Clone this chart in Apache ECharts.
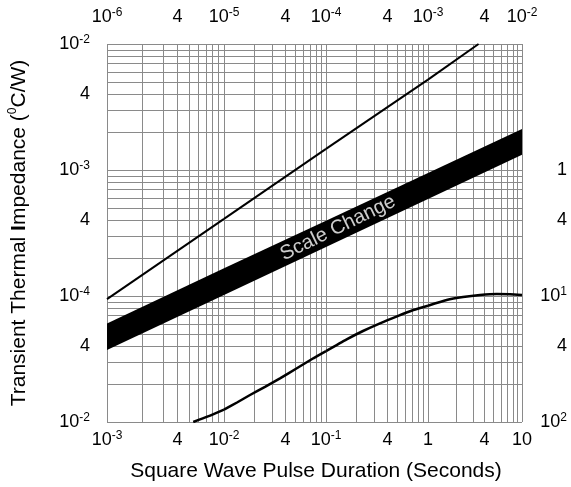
<!DOCTYPE html>
<html>
<head>
<meta charset="utf-8">
<script src="https://cdn.jsdelivr.net/npm/echarts@6/dist/echarts.min.js"></script>
<style>
  html, body { margin: 0; padding: 0; background: #fff; }
  #chart { width: 571px; height: 487px; }
</style>
</head>
<body>
<div id="chart"></div>
<script>
// decades of pulse duration (s) - the scanned grid is uneven, so each decade gets its own grid
const decades = [1e-3, 1e-2, 1e-1, 1, 10];
const decadeEdges = [107, 224, 326, 428, 522];

// tick labels
const xTickValues = [1e-3, 4e-3, 1e-2, 4e-2, 1e-1, 4e-1, 1, 4, 10];
const xBottomLabels = ['10^-3', '4', '10^-2', '4', '10^-1', '4', '1', '4', '10'];
const xTopLabels = ['10^-6', '4', '10^-5', '4', '10^-4', '4', '10^-3', '4', '10^-2'];
const yTickValues = [1e-2, 4e-3, 1e-3, 4e-4, 1e-4, 4e-5, 1e-5];
const yLeftLabels = ['10^-2', '4', '10^-3', '4', '10^-4', '4', '10^-2'];
const yRightLabels = ['', '', '1', '4', '10^1', '4', '10^2'];

// curves [seconds, degC/W]
const upperLine = [[1e-3, 9.45e-5], [1e-2, 4.09e-4], [1e-1, 1.47e-3], [1, 5.22e-3], [3.45, 1e-2]];
const bandTop = [[1e-3, 6.05e-5], [1e-2, 1.66e-4], [1e-1, 3.96e-4], [1, 9.46e-4], [10, 2.12e-3]];
const bandBottom = [[1e-3, 3.72e-5], [1e-2, 1.02e-4], [1e-1, 2.45e-4], [1, 5.88e-4], [10, 1.32e-3]];
const lowerCurve = [
  [5.46e-3, 1e-5], [7.29e-3, 1.107e-5], [1e-2, 1.254e-5],
  [1.341e-2, 1.428e-5], [1.799e-2, 1.638e-5], [2.524e-2, 1.903e-5], [3.54e-2, 2.222e-5],
  [5.08e-2, 2.644e-5], [7.51e-2, 3.203e-5], [1e-1, 3.653e-5],
  [0.1595, 4.53e-5], [0.2305, 5.275e-5], [0.3383, 6.07e-5], [0.4968, 6.9e-5], [0.7178, 7.74e-5], [1, 8.375e-5],
  [1.58, 9.3e-5], [2.357, 9.82e-5], [3.574, 1.019e-4], [5.38, 1.038e-4], [7.45, 1.032e-4], [10, 1.019e-4]
];
const bandLabel = [[0.131, 3.47e-4]];

const FONT = '"Liberation Sans", Arial, sans-serif';
const GRID_COLOR = '#8a8a8a';

const rich = {
  b: { fontSize: 18, fontFamily: FONT, color: '#000', lineHeight: 21 },
  s: { fontSize: 12, fontFamily: FONT, color: '#000', lineHeight: 12, verticalAlign: 'top' }
};

function richLabel(s) {
  if (!s) return '';
  if (s.indexOf('^') < 0) return '{b|' + s + '}';
  const parts = s.split('^');
  return '{b|' + parts[0] + '}{s|' + parts[1] + '}';
}

function labelFor(values, labels) {
  return function (v) {
    for (let i = 0; i < values.length; i++) {
      if (Math.abs(Math.log10(values[i]) - Math.log10(v)) < 1e-6) return richLabel(labels[i]);
    }
    return '';
  };
}

function inDecade(points, k) {
  return points.filter(p => p[0] >= decades[k] * (1 - 1e-9) && p[0] <= decades[k + 1] * (1 + 1e-9));
}

// grid line positions: 1..9 x each decade
function gridValues(lo, hi) {
  const vals = [];
  for (let d = Math.round(Math.log10(lo)); d < Math.round(Math.log10(hi)); d++) {
    for (let m = 1; m <= 9; m++) vals.push(m * Math.pow(10, d));
  }
  vals.push(hi);
  return vals;
}

const grids = [], xAxes = [], yAxes = [], series = [];

for (let k = 0; k < 4; k++) {
  const lo = decades[k], hi = decades[k + 1];
  const labVals = xTickValues.filter(v => v >= lo * 0.999 && (v < hi * 0.999 || k === 3));

  grids.push({ left: decadeEdges[k], width: decadeEdges[k + 1] - decadeEdges[k], top: 44, height: 378 });

  xAxes.push({
    gridIndex: k, type: 'log', min: lo, max: hi, position: 'bottom',
    axisLine: { show: false },
    axisTick: { show: false, customValues: gridValues(lo, hi) },
    splitLine: { show: true, lineStyle: { color: GRID_COLOR, width: 1 } },
    axisLabel: { customValues: labVals, margin: 8, formatter: labelFor(xTickValues, xBottomLabels), rich: rich }
  });
  xAxes.push({
    gridIndex: k, type: 'log', min: lo, max: hi, position: 'top',
    axisLine: { show: false },
    axisTick: { show: false },
    splitLine: { show: false },
    axisLabel: { customValues: labVals, margin: 16, formatter: labelFor(xTickValues, xTopLabels), rich: rich }
  });

  const yAxis = {
    gridIndex: k, type: 'log', min: 1e-5, max: 1e-2,
    position: k === 3 ? 'right' : 'left',
    axisLine: { show: false },
    axisTick: { show: false, customValues: gridValues(1e-5, 1e-2) },
    splitLine: { show: true, lineStyle: { color: GRID_COLOR, width: 1 } },
    axisLabel: { show: false }
  };
  if (k === 0) {
    yAxis.axisLabel = { show: true, customValues: yTickValues, margin: 17, formatter: labelFor(yTickValues, yLeftLabels), rich: rich };
    yAxis.name = 'Transient Thermal {bb|I}mpedance ({sup|0}C/W)';
    yAxis.nameLocation = 'middle';
    yAxis.nameGap = 76;
    yAxis.nameTextStyle = {
      fontSize: 21, fontFamily: FONT, color: '#000', lineHeight: 24,
      rich: {
        bb: { fontSize: 21, fontFamily: FONT, fontWeight: 'bold', color: '#000', lineHeight: 24 },
        sup: { fontSize: 12, fontFamily: FONT, color: '#000', lineHeight: 12, verticalAlign: 'top' }
      }
    };
  }
  if (k === 3) {
    yAxis.axisLabel = { show: true, customValues: yTickValues, margin: 45, align: 'right', formatter: labelFor(yTickValues, yRightLabels), rich: rich };
  }
  yAxes.push(yAxis);

  // black band
  const top = inDecade(bandTop, k), bot = inDecade(bandBottom, k);
  series.push({
    type: 'custom', xAxisIndex: 2 * k, yAxisIndex: k, silent: true,
    data: top.map((p, i) => [p[0], p[1], bot[i][1]]),
    encode: { x: 0, y: [1, 2] },
    renderItem: function (params, api) {
      if (params.dataIndex !== 0) return null;
      const pts = top.map(p => api.coord(p)).concat(bot.slice().reverse().map(p => api.coord(p)));
      return { type: 'polygon', shape: { points: pts }, style: { fill: '#000' } };
    }
  });

  const up = inDecade(upperLine, k);
  if (up.length > 1) {
    series.push({
      type: 'line', xAxisIndex: 2 * k, yAxisIndex: k, data: up, symbol: 'none', silent: true,
      lineStyle: { color: '#000', width: 2 }
    });
  }

  const lowSeg = inDecade(lowerCurve, k);
  if (lowSeg.length > 1) {
    series.push({
      type: 'line', xAxisIndex: 2 * k, yAxisIndex: k, data: lowSeg, symbol: 'none', silent: true,
      smooth: 0.2, lineStyle: { color: '#000', width: 2.5 }
    });
  }
}

// "Scale Change" text on the band
series.push({
  type: 'scatter', xAxisIndex: 4, yAxisIndex: 2, data: bandLabel, symbolSize: 1, silent: true,
  itemStyle: { color: 'rgba(0,0,0,0)' },
  label: {
    show: true, position: 'inside', formatter: 'Scale Change', rotate: 26,
    color: '#fff', fontSize: 20, fontFamily: FONT
  }
});

const chart = echarts.init(document.getElementById('chart'));
chart.setOption({
  animation: false,
  backgroundColor: '#fff',
  grid: grids,
  xAxis: xAxes,
  yAxis: yAxes,
  series: series,
  graphic: [{
    type: 'text', x: 316, y: 471,
    style: {
      text: 'Square Wave Pulse Duration (Seconds)',
      font: '21px ' + FONT, fill: '#000',
      align: 'center', verticalAlign: 'middle', textAlign: 'center', textVerticalAlign: 'middle'
    }
  }]
});
</script>
</body>
</html>
